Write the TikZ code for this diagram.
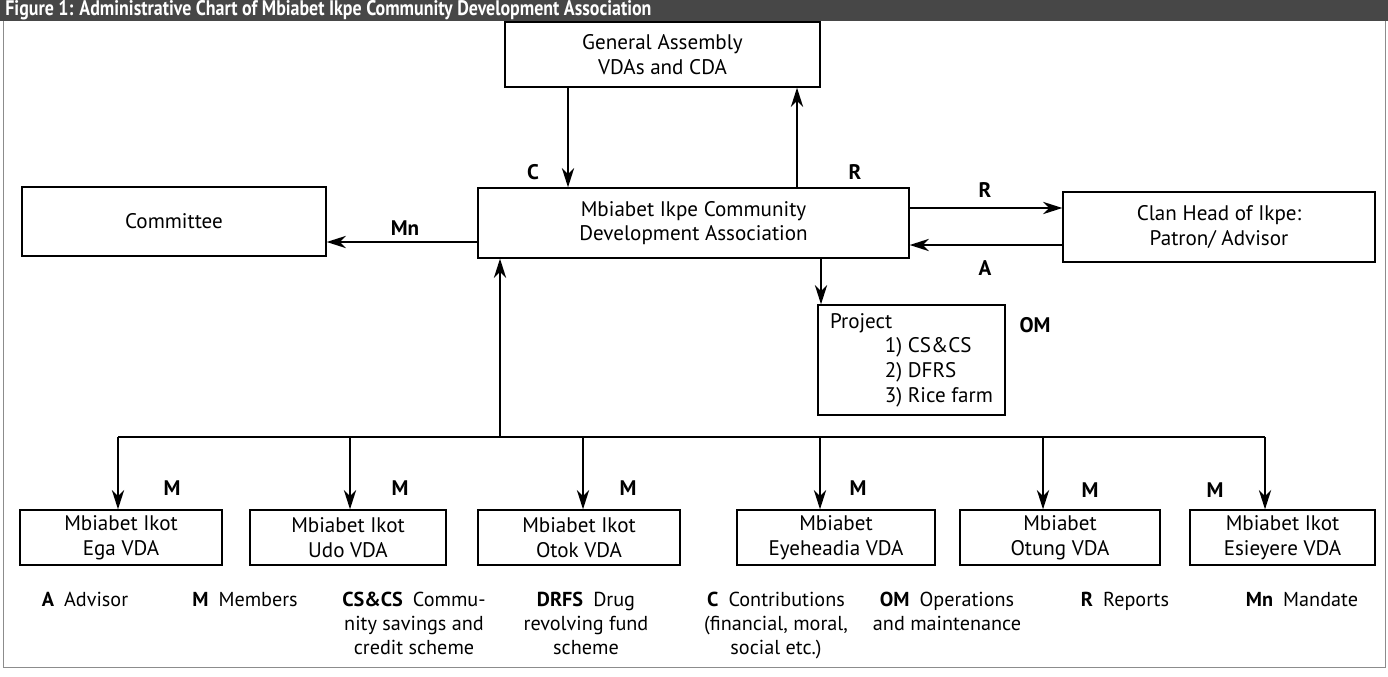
\documentclass[tikz,border=0pt]{standalone}
\usepackage{fontspec}
\setmainfont{PT Sans}
\usepackage{graphicx}
\usetikzlibrary{calc,arrows.meta}
\tikzset{>={Stealth[length=11pt,width=7pt]}}
\tikzset{
  unitbox/.style={draw, line width=0.8pt, align=center, inner sep=0pt, font=\fontsize{12}{14}\selectfont},
  lbl/.style={font=\fontsize{12}{14}\selectfont\bfseries},
  keytext/.style={align=center, anchor=north, inner sep=0pt, font=\fontsize{11.5}{13.5}\selectfont},
  link/.style={->, line width=1.1pt}
}

\begin{document}
\begin{tikzpicture}[x=0.02cm,y=-0.02cm]
  \useasboundingbox (0,0) rectangle (1388,676);

  % title band
  \fill[black!72] (0,0) rectangle (1388,21);
  \node[anchor=west, text=white, inner sep=0pt] at (5,10.5) (title)
    {\scalebox{0.85}[1]{\fontsize{12}{12}\selectfont\bfseries Figure 1: Administrative Chart of Mbiabet Ikpe Community Development Association}};
  \draw[black!45, line width=0.4pt] (3,21) -- (3,667) -- (1385,667) -- (1385,21);

  % main boxes
  \node[unitbox, minimum width=6.3cm, minimum height=1.3cm] at (662.5,54.5) (ga) {General Assembly\\VDAs and CDA};
  \node[unitbox, minimum width=8.62cm, minimum height=1.4cm] at (693.5,223) (cda) {Mbiabet Ikpe Community\\Development Association};
  \node[unitbox, minimum width=6.08cm, minimum height=1.38cm] at (174,221.5) (com) {Committee};
  \node[unitbox, minimum width=6.24cm, minimum height=1.4cm] at (1219,227) (clan) {Clan Head of Ikpe:\\Patron/ Advisor};
  \node[unitbox, minimum width=3.74cm, minimum height=2.2cm, align=left] at (911.5,360) (pj)
    {Project\\\hspace*{2.6em}1) CS\&CS\\\hspace*{2.6em}2) DFRS\\\hspace*{2.6em}3) Rice farm};

  % village development associations
  \node[unitbox, minimum width=4.04cm, minimum height=1.1cm] at (121,537.5) (v1) {Mbiabet Ikot\\Ega VDA};
  \node[unitbox, minimum width=3.92cm, minimum height=1.1cm] at (348,537.5) (v2) {Mbiabet Ikot\\Udo VDA};
  \node[unitbox, minimum width=4.04cm, minimum height=1.1cm] at (579,537.5) (v3) {Mbiabet Ikot\\Otok VDA};
  \node[unitbox, minimum width=3.96cm, minimum height=1.1cm] at (836,537.5) (v4) {Mbiabet\\Eyeheadia VDA};
  \node[unitbox, minimum width=4cm, minimum height=1.1cm] at (1060,537.5) (v5) {Mbiabet\\Otung VDA};
  \node[unitbox, minimum width=3.7cm, minimum height=1.1cm] at (1282.5,537.5) (v6) {Mbiabet Ikot\\Esieyere VDA};

  % connectors
  \coordinate (xc) at (568,0);
  \coordinate (xr) at (797,0);
  \coordinate (xp) at (821,0);
  \coordinate (yr) at (0,208);
  \coordinate (ya) at (0,245);
  \coordinate (ym) at (0,242);
  \coordinate (bus) at (500,437);
  \draw[link] (ga.south -| xc) -- (cda.north -| xc);
  \draw[link] (cda.north -| xr) -- (ga.south -| xr);
  \draw[link] (cda.east |- yr) -- (clan.west |- yr);
  \draw[link] (clan.west |- ya) -- (cda.east |- ya);
  \draw[link] (cda.west |- ym) -- (com.east |- ym);
  \draw[link] (cda.south -| xp) -- (pj.north -| xp);
  \draw[link] (bus) -- (cda.south -| bus);
  \draw[line width=1.1pt] (118,437) -- (1265,437);
  \foreach \v/\x in {v1/118, v2/350, v3/583, v4/820, v5/1043, v6/1265} {
    \coordinate (t\v) at (\x,437);
    \draw[link] (t\v) -- (t\v |- \v.north);
  }

  % flow labels
  \node[lbl] at (533,172) (lc) {C};
  \node[lbl] at (855,172) (lr1) {R};
  \node[lbl] at (985,190) (lr2) {R};
  \node[lbl] at (985,268) (la) {A};
  \node[lbl] at (405,228) (lmn) {Mn};
  \node[lbl] at (1035,325) (lom) {OM};
  \foreach \x/\y [count=\i] in {172/488, 400/488, 628/488, 858/488, 1090/490, 1215/490}
    \node[lbl] at (\x,\y) (lm\i) {M};

  % key
  \node[keytext] at (85,592) (k1) {\textbf{A}\enspace Advisor};
  \node[keytext] at (245,592) (k2) {\textbf{M}\enspace Members};
  \node[keytext] at (414,592) (k3) {\textbf{CS\&CS}\enspace Commu-\\nity savings and\\credit scheme};
  \node[keytext] at (586,592) (k4) {\textbf{DRFS}\enspace Drug\\revolving fund\\scheme};
  \node[keytext] at (776,592) (k5) {\textbf{C}\enspace Contributions\\(financial, moral,\\social etc.)};
  \node[keytext] at (947,592) (k6) {\textbf{OM}\enspace Operations\\and maintenance};
  \node[keytext] at (1125,592) (k7) {\textbf{R}\enspace Reports};
  \node[keytext] at (1302,592) (k8) {\textbf{Mn}\enspace Mandate};
\end{tikzpicture}
\end{document}
